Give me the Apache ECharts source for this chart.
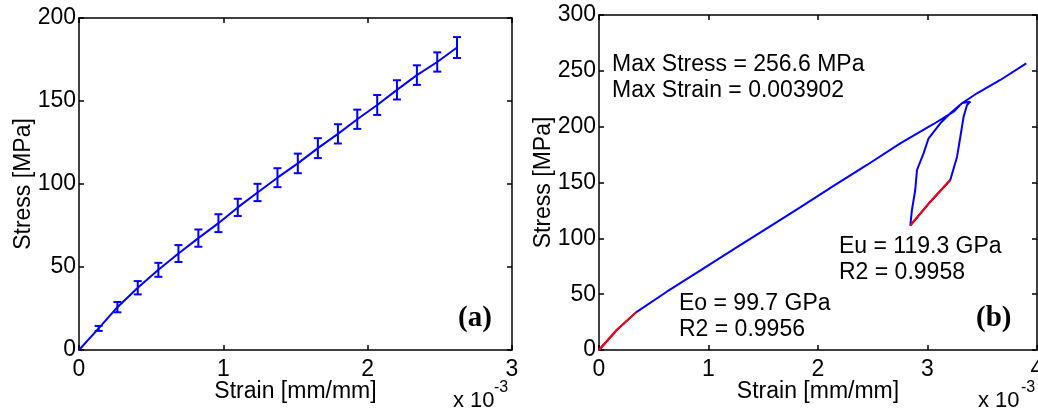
<!DOCTYPE html>
<html>
<head>
<meta charset="utf-8">
<script src="https://cdn.jsdelivr.net/npm/echarts@6/dist/echarts.min.js"></script>
<style>
html,body{margin:0;padding:0;background:#fff;}
#c{width:1038px;height:408px;}
</style>
</head>
<body>
<div id="c"></div>
<script>
// Panel (a): strain in units of 1e-3 mm/mm, stress in MPa
const aStrain = [0.136,0.266,0.407,0.550,0.689,0.827,0.966,1.100,1.237,1.375,1.516,1.655,1.794,1.928,2.066,2.203,2.341,2.482,2.619];
const aStress = [13.0,25.8,37.5,48.3,58.1,67.4,76.4,85.9,94.9,103.8,112.4,121.6,130.2,139.0,147.6,156.7,165.6,173.5,182.2];
const aErr    = [1.5,3.1,4.0,4.2,5.1,5.2,5.4,5.2,5.2,5.7,5.9,6.0,5.8,5.8,6.0,5.8,5.9,5.8,6.3];

// Panel (b): full load / unload / reload path
const bStrain = [0,0.162,0.338,0.619,0.923,1.228,1.533,1.837,2.142,2.447,2.751,3.056,3.239,3.315,3.391,
                 3.361,3.330,3.300,3.270,3.208,3.026,2.843,
                 2.858,2.888,2.904,2.964,3.010,3.117,3.208,3.315,3.452,3.665,3.902];
const bStress = [0,17.9,33.7,52.2,71.0,90.1,109.0,127.8,146.9,165.7,185.1,202.4,213.4,221.1,222.4,
                 219.4,209.0,191.0,173.1,152.2,132.8,111.5,
                 125.4,143.3,161.2,176.1,189.6,203.0,212.0,221.0,229.9,241.8,256.6];
// Linear fit segments (red)
const eoStrain = [0,0.162,0.338];
const eoStress = [0,17.9,33.7];
const euStrain = [3.208,3.026,2.843];
const euStress = [152.2,132.8,111.5];

const aTicksX = [0,3,1];   // min, max, interval
const aTicksY = [0,200,50];
const bTicksX = [0,4,1];
const bTicksY = [0,300,50];

const FONT = 'Liberation Sans, Arial, sans-serif';
const zip = (xs, ys) => xs.map((x, i) => [x, ys[i]]);

function axisBase(min, max, interval, pos, gridIndex, showLabel) {
  return {
    type: 'value', gridIndex: gridIndex, position: pos, min: min, max: max, interval: interval,
    axisLine: {show: true, onZero: false, lineStyle: {color: '#000', width: 1.5}},
    axisTick: {show: true, inside: true, length: 5, lineStyle: {color: '#000', width: 1.5}},
    splitLine: {show: false},
    axisLabel: {show: showLabel, color: '#000', fontFamily: FONT, fontSize: 23, margin: 5,
                showMinLabel: true, showMaxLabel: true, hideOverlap: false},
  };
}

const nameStyle = {color: '#000', fontFamily: FONT, fontSize: 23};
const xAxes = [
  Object.assign(axisBase(aTicksX[0], aTicksX[1], aTicksX[2], 'bottom', 0, true),
    {name: 'Strain [mm/mm]', nameLocation: 'middle', nameGap: 30, nameMoveOverlap: false, nameTextStyle: nameStyle}),
  axisBase(aTicksX[0], aTicksX[1], aTicksX[2], 'top', 0, false),
  Object.assign(axisBase(bTicksX[0], bTicksX[1], bTicksX[2], 'bottom', 1, true),
    {name: 'Strain [mm/mm]', nameLocation: 'middle', nameGap: 30, nameMoveOverlap: false, nameTextStyle: nameStyle}),
  axisBase(bTicksX[0], bTicksX[1], bTicksX[2], 'top', 1, false),
];
xAxes[0].axisLabel.margin = 8; xAxes[2].axisLabel.margin = 8;

const yAxes = [
  Object.assign(axisBase(aTicksY[0], aTicksY[1], aTicksY[2], 'left', 0, true),
    {name: 'Stress [MPa]', nameLocation: 'middle', nameGap: 44, nameMoveOverlap: false, nameTextStyle: nameStyle}),
  axisBase(aTicksY[0], aTicksY[1], aTicksY[2], 'right', 0, false),
  Object.assign(axisBase(bTicksY[0], bTicksY[1], bTicksY[2], 'left', 1, true),
    {name: 'Stress [MPa]', nameLocation: 'middle', nameGap: 44, nameMoveOverlap: false, nameTextStyle: nameStyle}),
  axisBase(bTicksY[0], bTicksY[1], bTicksY[2], 'right', 1, false),
];
yAxes[0].axisLabel.margin = 3; yAxes[2].axisLabel.margin = 3;

const errData = aStrain.map((x, i) => [x, aStress[i] - aErr[i], aStress[i] + aErr[i]]);

const chart = echarts.init(document.getElementById('c'), null, {renderer: 'canvas'});
chart.setOption({
  backgroundColor: '#fff',
  animation: false,
  grid: [
    {left: 79, top: 18, width: 433, height: 332, containLabel: false, outerBoundsMode: 'none'},
    {left: 599, top: 15, width: 438, height: 335, containLabel: false, outerBoundsMode: 'none'}
  ],
  xAxis: xAxes,
  yAxis: yAxes,
  series: [
    {
      type: 'line', xAxisIndex: 0, yAxisIndex: 0,
      data: [[0, 0]].concat(zip(aStrain, aStress)),
      showSymbol: false, lineStyle: {color: '#0000ff', width: 2}, z: 3
    },
    {
      type: 'custom', xAxisIndex: 0, yAxisIndex: 0,
      data: errData,
      renderItem: function (params, api) {
        const x = api.value(0);
        const lo = api.coord([x, api.value(1)]);
        const hi = api.coord([x, api.value(2)]);
        const w = 4;
        const st = {stroke: '#0000ff', lineWidth: 2};
        return {type: 'group', children: [
          {type: 'line', shape: {x1: lo[0], y1: lo[1], x2: hi[0], y2: hi[1]}, style: st},
          {type: 'line', shape: {x1: lo[0] - w, y1: lo[1], x2: lo[0] + w, y2: lo[1]}, style: st},
          {type: 'line', shape: {x1: hi[0] - w, y1: hi[1], x2: hi[0] + w, y2: hi[1]}, style: st}
        ]};
      },
      z: 4
    },
    {
      type: 'line', xAxisIndex: 2, yAxisIndex: 2,
      data: zip(bStrain, bStress),
      showSymbol: false, lineStyle: {color: '#0000ff', width: 2}, z: 3
    },
    {
      type: 'line', xAxisIndex: 2, yAxisIndex: 2,
      data: zip(eoStrain, eoStress),
      showSymbol: false, lineStyle: {color: '#ff0000', width: 2}, z: 4
    },
    {
      type: 'line', xAxisIndex: 2, yAxisIndex: 2,
      data: zip(euStrain, euStress),
      showSymbol: false, lineStyle: {color: '#ff0000', width: 2}, z: 4
    }
  ],
  graphic: [
    {type: 'text', x: 458, y: 319, style: {text: '(a)', font: 'bold 29px "Liberation Serif", "Times New Roman", serif', fill: '#000', verticalAlign: 'middle'}},
    {type: 'text', x: 976, y: 319, style: {text: '(b)', font: 'bold 29px "Liberation Serif", "Times New Roman", serif', fill: '#000', verticalAlign: 'middle'}},
    {type: 'text', x: 453, y: 401, style: {text: 'x 10', font: '22px ' + FONT, fill: '#000', verticalAlign: 'middle'}},
    {type: 'text', x: 494, y: 388, style: {text: '-3', font: '16px ' + FONT, fill: '#000', verticalAlign: 'middle'}},
    {type: 'text', x: 978, y: 401, style: {text: 'x 10', font: '22px ' + FONT, fill: '#000', verticalAlign: 'middle'}},
    {type: 'text', x: 1021, y: 388, style: {text: '-3', font: '16px ' + FONT, fill: '#000', verticalAlign: 'middle'}},
    {type: 'text', x: 612, y: 65, style: {text: 'Max Stress = 256.6 MPa', font: '23px ' + FONT, fill: '#000', verticalAlign: 'middle'}},
    {type: 'text', x: 612, y: 91, style: {text: 'Max Strain = 0.003902', font: '23px ' + FONT, fill: '#000', verticalAlign: 'middle'}},
    {type: 'text', x: 839, y: 247, style: {text: 'Eu = 119.3 GPa', font: '23px ' + FONT, fill: '#000', verticalAlign: 'middle'}},
    {type: 'text', x: 839, y: 273, style: {text: 'R2 = 0.9958', font: '23px ' + FONT, fill: '#000', verticalAlign: 'middle'}},
    {type: 'text', x: 679, y: 304, style: {text: 'Eo = 99.7 GPa', font: '23px ' + FONT, fill: '#000', verticalAlign: 'middle'}},
    {type: 'text', x: 679, y: 330, style: {text: 'R2 = 0.9956', font: '23px ' + FONT, fill: '#000', verticalAlign: 'middle'}}
  ]
});
</script>
</body>
</html>
